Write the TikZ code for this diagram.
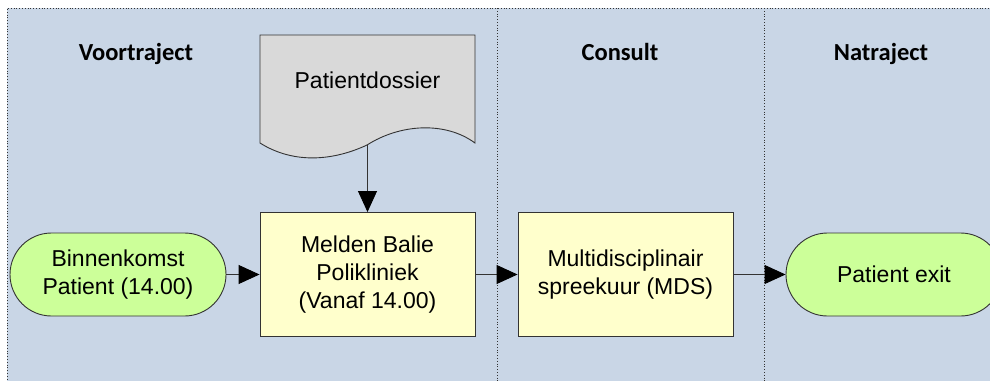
\documentclass[tikz,border=0pt]{standalone}
\usepackage{fontspec}
\setmainfont{Liberation Sans}
\newfontfamily\headfont{Carlito}
\usetikzlibrary{arrows.meta}
\definecolor{lanebg}{HTML}{C9D6E6}
\definecolor{taskfill}{HTML}{FFFFCC}
\definecolor{termfill}{HTML}{CCFF99}
\definecolor{docfill}{HTML}{D9D9D9}
\definecolor{edge}{HTML}{333333}
\tikzset{
  lanesep/.style={draw=black!80, line width=0.8pt, dash pattern=on 0.8pt off 2pt},
  header/.style={font=\headfont\bfseries\fontsize{24.5}{28}\selectfont, anchor=base},
  body/.style={font=\fontsize{23}{28}\selectfont},
  task/.style={body, draw=edge, line width=0.9pt, fill=taskfill, minimum width=215pt, minimum height=124pt,
    align=center, inner sep=0pt},
  terminal/.style={body, draw=edge, line width=0.9pt, fill=termfill, minimum width=216pt, minimum height=83pt,
    rounded corners=41.5pt, align=center, inner sep=0pt},
  flow/.style={draw=edge, line width=0.9pt, -{Triangle[length=21pt, width=19pt, color=black]}},
}
\begin{document}
\begin{tikzpicture}[x=1pt, y=-1pt]
  \useasboundingbox (0,0) rectangle (990,380);
  % swimlane background and separators
  \fill[lanebg] (7,8) rectangle (995,385);
  \draw[lanesep] (7,385) -- (7,8) -- (995,8);
  \draw[lanesep] (497,8) -- (497,385);
  \draw[lanesep] (764,8) -- (764,385);
  % lane titles
  \node[header] (h1) at (136,60) {Voortraject};
  \node[header] (h2) at (620,60) {Consult};
  \node[header] (h3) at (881,60) {Natraject};
  % document shape
  \filldraw[draw=edge, line width=0.9pt, fill=docfill]
    (260,143) -- (260,35) -- (475,35) -- (475,143)
    .. controls (445,121) and (400,124) .. (367,145)
    .. controls (335,160) and (295,165) .. (260,143) -- cycle;
  \node[body] (doc) at (367.5,80) {Patientdossier};
  \coordinate (docb) at (367.5,145);
  % process steps
  \node[terminal] (start) at (118,274.5) {Binnenkomst\\Patient (14.00)};
  \node[task] (melden) at (367.5,274.5) {Melden Balie\\Polikliniek\\(Vanaf 14.00)};
  \node[task] (mds) at (625.5,274.5) {Multidisciplinair\\spreekuur (MDS)};
  \node[terminal] (exit) at (894,274.5) {Patient exit};
  % connectors
  \draw[flow] (docb) -- (melden.north);
  \draw[flow] (start) -- (melden);
  \draw[flow] (melden) -- (mds);
  \draw[flow] (mds) -- (exit);
\end{tikzpicture}
\end{document}
